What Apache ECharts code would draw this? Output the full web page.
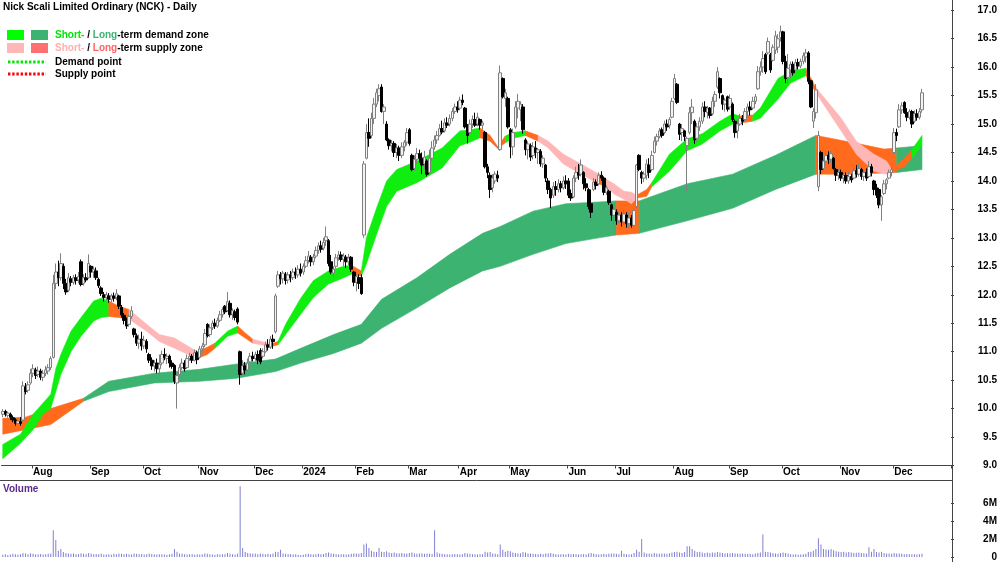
<!DOCTYPE html>
<html>
<head>
<meta charset="utf-8">
<title>Nick Scali Limited Ordinary (NCK) - Daily</title>
<script src="https://cdn.jsdelivr.net/npm/echarts@6/dist/echarts.min.js"></script>
<style>
  html, body { margin: 0; padding: 0; background: #fff; }
  #chart { width: 1000px; height: 562px; }
</style>
</head>
<body>
<div id="chart"></div>
<script>
// daily bars, mid Jul 2023 .. mid Dec 2024 (one entry per trading day)
const opens = [
  9.90, 9.95, 9.88, 9.90, 9.84, 9.80, 9.74, 9.77, 9.80, 10.38,
  10.32, 10.45, 10.62, 10.68, 10.60, 10.66, 10.55, 10.62, 10.66, 10.72,
  10.90, 12.20, 12.40, 12.30, 12.50, 12.20, 12.08, 12.28, 12.22, 12.30,
  12.26, 12.58, 12.20, 12.30, 12.30, 12.50, 12.40, 12.42, 12.27, 12.12,
  12.00, 11.95, 11.98, 11.92, 11.98, 11.95, 11.98, 11.78, 11.64, 11.55,
  11.48, 11.62, 11.40, 11.28, 11.15, 11.22, 11.10, 11.18, 10.95, 10.85,
  10.75, 10.80, 10.70, 10.80, 10.95, 10.88, 10.92, 10.80, 10.76, 10.45,
  10.60, 10.72, 10.80, 10.72, 10.88, 10.92, 10.85, 10.98, 10.90, 11.05,
  11.12, 11.48, 11.30, 11.42, 11.50, 11.45, 11.55, 11.65, 11.80, 11.72,
  11.85, 11.66, 11.70, 11.75, 11.00, 10.62, 10.75, 10.68, 10.82, 10.92,
  10.88, 10.95, 11.02, 10.92, 11.00, 11.12, 11.08, 11.22, 11.35, 12.15,
  12.35, 12.28, 12.36, 12.26, 12.35, 12.30, 12.40, 12.35, 12.45, 12.40,
  12.50, 12.60, 12.66, 12.58, 12.68, 12.78, 12.86, 12.82, 12.95, 12.95,
  12.58, 12.38, 12.50, 12.65, 12.70, 12.62, 12.66, 12.58, 12.66, 12.40,
  12.22, 12.30, 12.30, 13.05, 14.40, 14.85, 14.80, 15.10, 15.35, 15.50,
  15.65, 15.22, 15.00, 14.72, 14.62, 14.66, 14.50, 14.58, 14.45, 14.60,
  14.68, 14.90, 14.45, 14.22, 14.38, 14.48, 14.40, 14.30, 14.35, 14.15,
  14.40, 14.60, 14.72, 14.80, 14.92, 14.88, 15.02, 15.00, 15.10, 15.22,
  15.30, 15.28, 15.42, 15.28, 14.95, 14.85, 15.00, 15.08, 15.00, 15.08,
  14.98, 14.85, 14.25, 14.10, 13.88, 14.00, 14.10, 14.55, 15.80, 15.45,
  15.45, 14.90, 14.60, 14.95, 15.28, 15.25, 15.30, 14.72, 14.55, 14.62,
  14.45, 14.58, 14.50, 14.52, 14.30, 14.28, 14.00, 13.85, 13.75, 13.90,
  13.85, 13.95, 13.88, 14.00, 14.00, 13.78, 13.72, 14.05, 14.15, 14.12,
  14.15, 13.95, 13.85, 13.60, 13.85, 13.98, 13.95, 14.10, 14.05, 13.80,
  13.82, 13.58, 13.40, 13.45, 13.30, 13.40, 13.28, 13.40, 13.25, 13.35,
  13.22, 13.55, 14.45, 14.15, 14.05, 14.10, 14.28, 14.20, 14.50, 14.70,
  14.78, 14.90, 14.85, 15.00, 14.98, 15.12, 15.45, 15.70, 15.00, 14.85,
  14.88, 14.62, 14.85, 15.20, 15.05, 14.75, 14.95, 15.05, 15.30, 15.20,
  15.28, 15.18, 15.40, 15.65, 15.80, 15.50, 15.35, 15.48, 15.30, 15.35,
  15.05, 14.88, 15.00, 15.10, 15.08, 15.22, 15.30, 15.28, 15.40, 15.62,
  15.92, 16.00, 16.22, 16.25, 16.22, 16.12, 16.30, 16.35, 16.52, 16.62,
  16.10, 15.82, 15.95, 16.05, 15.95, 16.08, 16.02, 16.10, 16.18, 16.25,
  15.76, 15.05, 15.20, 13.90, 14.50, 14.22, 14.35, 14.45, 14.38, 14.40,
  14.20, 14.10, 14.15, 14.05, 14.10, 14.00, 14.08, 14.05, 14.18, 14.12,
  14.20, 14.08, 14.15, 14.08, 14.25, 14.00, 13.88, 13.85, 13.58, 13.78,
  13.95, 14.05, 14.15, 14.50, 14.85, 14.95, 15.25, 15.38, 15.20, 15.12,
  15.22, 15.05, 15.18, 15.12, 15.25
];
const closes = [
  9.95, 9.90, 9.92, 9.85, 9.80, 9.74, 9.78, 9.74, 10.40, 10.30,
  10.42, 10.62, 10.70, 10.58, 10.66, 10.55, 10.62, 10.68, 10.72, 10.88,
  12.20, 12.40, 12.30, 12.55, 12.20, 12.05, 12.30, 12.22, 12.30, 12.25,
  12.32, 12.18, 12.30, 12.26, 12.55, 12.40, 12.45, 12.30, 12.16, 12.02,
  11.95, 12.00, 11.92, 11.98, 11.94, 12.02, 11.80, 11.65, 11.55, 11.45,
  11.62, 11.72, 11.30, 11.15, 11.22, 11.10, 11.20, 11.05, 10.85, 10.75,
  10.80, 10.70, 10.78, 10.95, 10.90, 10.92, 10.80, 10.74, 10.48, 10.58,
  10.72, 10.80, 10.70, 10.88, 10.92, 10.85, 10.98, 10.86, 11.05, 11.10,
  11.32, 11.28, 11.42, 11.50, 11.45, 11.55, 11.65, 11.74, 11.70, 11.88,
  11.65, 11.72, 11.60, 11.52, 10.60, 10.75, 10.68, 10.80, 10.92, 10.88,
  10.95, 10.85, 10.82, 11.00, 11.12, 11.08, 11.22, 11.18, 11.98, 12.35,
  12.28, 12.38, 12.25, 12.35, 12.30, 12.40, 12.35, 12.45, 12.38, 12.50,
  12.60, 12.68, 12.58, 12.66, 12.78, 12.86, 12.80, 12.92, 13.02, 12.55,
  12.40, 12.45, 12.65, 12.70, 12.62, 12.68, 12.58, 12.65, 12.45, 12.22,
  12.32, 12.20, 12.02, 14.30, 14.85, 14.75, 15.10, 15.35, 15.55, 15.62,
  15.22, 15.30, 14.72, 14.62, 14.66, 14.50, 14.58, 14.45, 14.60, 14.68,
  14.85, 14.66, 14.20, 14.38, 14.48, 14.40, 14.28, 14.42, 14.12, 14.40,
  14.58, 14.72, 14.80, 14.92, 14.86, 15.02, 14.98, 15.10, 15.22, 15.30,
  15.25, 15.42, 15.38, 14.95, 14.80, 15.00, 15.08, 14.98, 15.12, 14.98,
  15.02, 14.25, 14.15, 13.85, 14.05, 14.12, 14.05, 15.90, 15.48, 15.55,
  14.95, 14.60, 14.85, 15.30, 15.40, 15.35, 14.90, 14.55, 14.65, 14.42,
  14.60, 14.50, 14.55, 14.30, 14.40, 14.05, 13.85, 13.70, 13.90, 13.85,
  13.95, 13.88, 14.00, 13.95, 13.75, 13.70, 14.05, 14.15, 14.10, 14.28,
  13.95, 13.88, 13.55, 13.45, 13.98, 13.92, 14.10, 14.05, 13.80, 13.88,
  13.62, 13.40, 13.50, 13.30, 13.40, 13.28, 13.42, 13.25, 13.35, 13.22,
  13.48, 14.28, 14.20, 14.05, 14.12, 14.30, 14.15, 14.45, 14.70, 14.78,
  14.88, 14.80, 15.00, 14.95, 15.08, 15.40, 15.80, 15.38, 14.82, 14.92,
  14.78, 14.75, 15.20, 15.30, 14.72, 14.95, 15.05, 15.30, 15.22, 15.28,
  15.15, 15.40, 15.52, 15.92, 15.55, 15.35, 15.42, 15.26, 15.45, 15.08,
  14.85, 15.00, 15.10, 15.05, 15.22, 15.30, 15.25, 15.40, 15.48, 15.92,
  16.00, 16.15, 15.92, 16.45, 15.95, 16.35, 16.55, 16.50, 16.62, 16.10,
  15.80, 15.98, 16.05, 15.90, 16.08, 16.02, 16.10, 16.20, 16.25, 15.75,
  15.30, 15.22, 15.60, 14.80, 14.20, 14.35, 14.45, 14.38, 14.48, 14.22,
  14.10, 14.15, 14.05, 14.10, 14.00, 14.08, 14.02, 14.18, 14.12, 14.22,
  14.08, 14.15, 14.05, 14.25, 14.15, 13.85, 13.75, 13.58, 13.72, 13.95,
  14.02, 14.15, 14.20, 14.85, 14.80, 15.25, 15.32, 15.20, 15.12, 15.22,
  15.00, 15.18, 15.12, 15.22, 15.55
];
const lows = [
  9.85, 9.86, 9.84, 9.80, 9.76, 9.70, 9.71, 9.70, 9.78, 10.25,
  10.28, 10.42, 10.55, 10.52, 10.55, 10.50, 10.48, 10.57, 10.60, 10.68,
  10.88, 12.10, 12.15, 12.25, 12.10, 12.00, 12.05, 12.15, 12.18, 12.18,
  12.20, 12.15, 12.16, 12.22, 12.28, 12.30, 12.30, 12.26, 12.12, 11.98,
  11.88, 11.90, 11.86, 11.87, 11.88, 11.90, 11.75, 11.60, 11.48, 11.40,
  11.44, 11.58, 11.25, 11.10, 11.05, 11.02, 11.05, 10.98, 10.80, 10.68,
  10.65, 10.62, 10.60, 10.76, 10.85, 10.78, 10.72, 10.70, 10.43, 10.00,
  10.56, 10.68, 10.65, 10.70, 10.84, 10.80, 10.83, 10.78, 10.88, 10.98,
  11.08, 11.25, 11.26, 11.38, 11.40, 11.42, 11.52, 11.60, 11.66, 11.70,
  11.60, 11.56, 11.55, 11.48, 10.42, 10.58, 10.60, 10.64, 10.80, 10.83,
  10.84, 10.78, 10.78, 10.88, 10.98, 11.02, 11.05, 11.05, 11.32, 12.12,
  12.18, 12.20, 12.18, 12.20, 12.22, 12.26, 12.28, 12.30, 12.32, 12.35,
  12.47, 12.55, 12.50, 12.52, 12.64, 12.72, 12.74, 12.78, 12.86, 12.50,
  12.36, 12.30, 12.46, 12.60, 12.58, 12.50, 12.47, 12.52, 12.40, 12.15,
  12.06, 12.10, 12.00, 13.00, 14.38, 14.60, 14.75, 15.00, 15.30, 15.40,
  15.20, 15.00, 14.70, 14.55, 14.52, 14.42, 14.40, 14.35, 14.40, 14.52,
  14.62, 14.62, 14.17, 14.18, 14.30, 14.32, 14.12, 14.20, 14.08, 14.12,
  14.35, 14.55, 14.65, 14.78, 14.82, 14.85, 14.93, 14.96, 15.05, 15.18,
  15.20, 15.24, 15.33, 14.92, 14.66, 14.82, 14.93, 14.95, 14.96, 14.90,
  14.90, 14.22, 14.05, 13.70, 13.80, 13.95, 13.98, 14.53, 15.45, 15.30,
  14.92, 14.40, 14.45, 14.92, 15.10, 15.05, 14.83, 14.45, 14.38, 14.35,
  14.38, 14.40, 14.30, 14.25, 14.23, 13.98, 13.77, 13.52, 13.70, 13.74,
  13.80, 13.80, 13.85, 13.86, 13.70, 13.65, 13.70, 13.98, 14.02, 14.08,
  13.85, 13.82, 13.50, 13.35, 13.82, 13.85, 13.92, 14.00, 13.75, 13.75,
  13.58, 13.30, 13.23, 13.23, 13.25, 13.20, 13.22, 13.18, 13.17, 13.18,
  13.20, 13.52, 14.17, 13.95, 13.98, 14.02, 14.05, 14.17, 14.48, 14.62,
  14.75, 14.76, 14.82, 14.88, 14.92, 15.10, 15.42, 15.35, 14.72, 14.70,
  14.70, 13.82, 14.82, 15.00, 14.65, 14.68, 14.88, 15.00, 15.12, 15.10,
  15.10, 15.15, 15.30, 15.62, 15.45, 15.25, 15.22, 15.22, 15.25, 15.04,
  14.76, 14.75, 14.97, 14.98, 15.05, 15.12, 15.15, 15.25, 15.35, 15.60,
  15.85, 15.90, 15.88, 16.22, 15.90, 16.10, 16.23, 16.25, 16.45, 16.05,
  15.72, 15.70, 15.80, 15.85, 15.92, 15.96, 15.98, 16.05, 16.08, 15.70,
  15.28, 14.93, 15.10, 13.82, 14.12, 14.17, 14.30, 14.30, 14.32, 14.20,
  14.00, 14.02, 14.00, 13.96, 13.95, 13.95, 13.97, 14.03, 14.06, 14.08,
  14.02, 14.00, 14.00, 14.05, 14.08, 13.75, 13.70, 13.52, 13.30, 13.75,
  13.85, 14.03, 14.08, 14.47, 14.70, 14.93, 15.18, 15.18, 15.05, 15.08,
  14.93, 15.02, 15.06, 15.08, 15.20
];
const highs = [
  9.99, 9.98, 9.95, 9.93, 9.88, 9.83, 9.82, 9.85, 10.48, 10.45,
  10.48, 10.70, 10.78, 10.72, 10.74, 10.70, 10.68, 10.75, 10.78, 10.92,
  12.35, 12.55, 12.60, 12.73, 12.55, 12.28, 12.38, 12.33, 12.35, 12.36,
  12.40, 12.62, 12.36, 12.38, 12.71, 12.52, 12.50, 12.48, 12.30, 12.15,
  12.05, 12.05, 12.03, 12.02, 12.04, 12.10, 12.00, 11.82, 11.68, 11.60,
  11.66, 11.80, 11.42, 11.32, 11.30, 11.35, 11.28, 11.22, 10.98, 10.90,
  10.85, 10.88, 10.95, 11.02, 11.06, 10.97, 10.95, 10.85, 10.78, 10.62,
  10.78, 10.88, 10.85, 10.95, 10.98, 10.96, 11.04, 11.02, 11.10, 11.15,
  11.40, 11.50, 11.48, 11.55, 11.58, 11.60, 11.72, 11.78, 11.82, 12.05,
  11.90, 11.76, 11.74, 11.78, 11.02, 10.85, 10.82, 10.88, 10.98, 11.00,
  11.00, 11.02, 11.06, 11.06, 11.18, 11.22, 11.28, 11.30, 12.02, 12.42,
  12.40, 12.42, 12.40, 12.40, 12.42, 12.46, 12.48, 12.52, 12.55, 12.55,
  12.68, 12.77, 12.70, 12.72, 12.85, 12.92, 12.95, 13.00, 13.20, 12.98,
  12.70, 12.50, 12.72, 12.77, 12.76, 12.73, 12.70, 12.72, 12.68, 12.42,
  12.36, 12.36, 12.36, 14.35, 15.00, 15.10, 15.20, 15.46, 15.62, 15.70,
  15.70, 15.35, 15.05, 14.75, 14.72, 14.70, 14.65, 14.62, 14.68, 14.72,
  14.93, 14.93, 14.48, 14.45, 14.58, 14.55, 14.50, 14.53, 14.38, 14.55,
  14.70, 14.80, 14.88, 15.00, 15.06, 15.10, 15.12, 15.17, 15.28, 15.36,
  15.40, 15.48, 15.52, 15.30, 15.00, 15.08, 15.15, 15.20, 15.20, 15.10,
  15.06, 14.88, 14.30, 14.15, 14.12, 14.17, 14.18, 16.03, 15.82, 15.62,
  15.48, 14.93, 14.92, 15.40, 15.53, 15.40, 15.35, 14.75, 14.70, 14.66,
  14.68, 14.70, 14.58, 14.56, 14.45, 14.30, 14.05, 13.88, 13.98, 14.00,
  14.03, 14.00, 14.08, 14.10, 14.05, 13.85, 14.10, 14.25, 14.30, 14.38,
  14.17, 14.05, 13.88, 13.85, 14.05, 14.03, 14.15, 14.17, 14.08, 13.92,
  13.85, 13.60, 13.58, 13.50, 13.47, 13.45, 13.50, 13.45, 13.45, 13.40,
  13.52, 14.30, 14.47, 14.18, 14.17, 14.38, 14.40, 14.53, 14.78, 14.83,
  14.93, 14.94, 15.06, 15.08, 15.12, 15.46, 15.88, 15.72, 15.02, 15.00,
  14.90, 14.78, 15.30, 15.44, 15.08, 15.02, 15.12, 15.38, 15.40, 15.32,
  15.30, 15.48, 15.58, 16.00, 15.82, 15.52, 15.46, 15.50, 15.52, 15.38,
  15.08, 15.08, 15.18, 15.16, 15.28, 15.36, 15.40, 15.48, 15.53, 16.02,
  16.10, 16.28, 16.25, 16.52, 16.25, 16.40, 16.64, 16.58, 16.73, 16.64,
  16.20, 16.23, 16.10, 16.10, 16.14, 16.15, 16.15, 16.26, 16.32, 16.28,
  15.78, 15.28, 15.70, 14.88, 14.53, 14.40, 14.53, 14.52, 14.53, 14.42,
  14.23, 14.22, 14.20, 14.15, 14.15, 14.17, 14.12, 14.25, 14.28, 14.30,
  14.23, 14.20, 14.22, 14.35, 14.30, 14.02, 13.95, 13.88, 13.75, 14.02,
  14.05, 14.20, 14.25, 14.93, 14.92, 15.35, 15.38, 15.40, 15.28, 15.26,
  15.25, 15.24, 15.26, 15.28, 15.62
];
// volume in millions of shares
const volumes = [
  0.25, 0.30, 0.22, 0.28, 0.35, 0.30, 0.26, 0.32, 0.45, 0.38,
  0.30, 0.42, 0.35, 0.28, 0.30, 0.33, 0.27, 0.31, 0.36, 0.40,
  3.00, 1.90, 0.70, 0.90, 0.55, 0.45, 0.40, 0.35, 0.38, 0.32,
  0.30, 0.42, 0.35, 0.30, 0.45, 0.36, 0.32, 0.34, 0.30, 0.38,
  0.28, 0.32, 0.30, 0.26, 0.35, 0.30, 0.40, 0.36, 0.32, 0.35,
  0.30, 0.28, 0.40, 0.36, 0.30, 0.33, 0.28, 0.32, 0.38, 0.34,
  0.30, 0.28, 0.32, 0.30, 0.27, 0.25, 0.30, 0.35, 0.90, 0.60,
  0.40, 0.35, 0.30, 0.28, 0.32, 0.30, 0.26, 0.30, 0.28, 0.32,
  0.40, 0.35, 0.30, 0.28, 0.25, 0.30, 0.27, 0.32, 0.30, 0.45,
  0.35, 0.30, 0.28, 0.40, 7.90, 1.00, 0.55, 0.45, 0.40, 0.35,
  0.38, 0.32, 0.40, 0.35, 0.30, 0.36, 0.30, 0.40, 0.60, 0.55,
  0.80, 0.40, 0.35, 0.30, 0.33, 0.28, 0.30, 0.26, 0.22, 0.25,
  0.30, 0.35, 0.30, 0.28, 0.32, 0.35, 0.30, 0.33, 0.45, 0.50,
  0.40, 0.35, 0.30, 0.28, 0.32, 0.30, 0.28, 0.30, 0.35, 0.40,
  0.38, 0.36, 0.45, 1.40, 1.50, 1.00, 0.70, 0.60, 0.55, 1.00,
  0.60, 0.55, 0.65, 0.50, 0.45, 0.50, 0.42, 0.40, 0.45, 0.40,
  0.38, 0.45, 0.50, 0.40, 0.35, 0.38, 0.42, 0.36, 0.40, 0.35,
  0.33, 3.00, 0.50, 0.40, 0.35, 0.30, 0.32, 0.28, 0.30, 0.33,
  0.30, 0.28, 0.32, 0.45, 0.40, 0.35, 0.30, 0.32, 0.28, 0.30,
  0.30, 0.60, 0.50, 0.55, 0.40, 0.35, 0.30, 1.40, 0.80, 0.60,
  0.70, 0.65, 0.50, 0.45, 0.40, 0.42, 0.55, 0.50, 0.40, 0.38,
  0.35, 0.33, 0.30, 0.35, 0.30, 0.40, 0.38, 0.45, 0.35, 0.30,
  0.28, 0.30, 0.32, 0.28, 0.35, 0.30, 0.33, 0.30, 0.28, 0.32,
  0.30, 0.28, 0.40, 0.45, 0.35, 0.30, 0.28, 0.30, 0.35, 0.32,
  0.35, 0.40, 0.38, 0.35, 0.30, 0.70, 0.35, 0.30, 0.28, 0.32,
  0.45, 0.80, 0.60, 2.00, 0.50, 0.40, 0.38, 0.35, 0.45, 0.40,
  0.35, 0.38, 0.40, 0.35, 0.42, 0.50, 0.55, 0.60, 0.50, 0.45,
  0.55, 1.20, 1.20, 0.90, 0.70, 0.55, 0.60, 0.50, 0.45, 0.50,
  0.45, 0.50, 0.48, 0.55, 0.50, 0.45, 0.40, 0.42, 0.38, 0.45,
  0.40, 0.38, 0.35, 0.40, 0.36, 0.33, 0.35, 0.32, 0.38, 0.45,
  0.50, 2.50, 0.60, 0.55, 0.50, 0.45, 0.40, 0.35, 0.45, 0.50,
  0.45, 0.40, 0.30, 0.28, 0.30, 0.25, 0.28, 0.30, 0.35, 0.55,
  0.60, 0.70, 0.90, 2.10, 1.40, 0.90, 0.85, 0.80, 0.90, 0.75,
  0.65, 0.60, 0.55, 0.58, 0.50, 0.55, 0.50, 0.45, 0.48, 0.50,
  0.45, 0.42, 0.40, 1.10, 0.60, 0.90, 0.55, 0.50, 0.60, 0.45,
  0.40, 0.38, 0.35, 0.45, 0.40, 0.38, 0.35, 0.30, 0.33, 0.30,
  0.32, 0.30, 0.28, 0.30, 0.35
];

// short-term zone edges, sampled at bar positions (D demand, S supply, T turning)
const shortX = [-0.5, 7, 12, 16, 19, 21, 23, 27, 31, 36, 39, 42, 46, 50, 57, 62, 68, 77, 81, 84,
  89, 93, 96, 99, 105, 107, 109, 112, 118, 123, 129, 135, 138, 142, 144, 148, 152, 156, 164, 174,
  181, 185, 189, 193, 196, 199, 202, 207, 212, 216, 222, 229, 236, 239, 242, 246, 249, 251, 255, 257,
  264, 271, 277, 284, 289, 292, 297, 300, 307, 312, 318, 322, 332, 338, 345, 350, 352, 357, 360, 364];
const shortLo = [9.12, 9.39, 9.63, 9.90, 10.00, 10.30, 10.60, 11.00, 11.27, 11.54, 11.60, 11.62, 11.60, 11.57, 11.36, 11.18, 11.06, 10.88, 10.95, 11.06,
  11.27, 11.33, 11.24, 11.15, 11.10, 11.10, 11.12, 11.30, 11.66, 11.95, 12.19, 12.30, 12.36, 12.33, 12.54, 13.06, 13.55, 13.82, 13.97, 14.23,
  14.62, 14.68, 14.76, 14.70, 14.57, 14.67, 14.75, 14.80, 14.70, 14.58, 14.30, 14.12, 13.95, 13.90, 13.77, 13.68, 13.60, 13.70, 13.73, 13.90,
  14.17, 14.53, 14.65, 14.88, 15.00, 15.02, 15.05, 15.10, 15.44, 15.72, 15.85, 15.55, 14.88, 14.47, 14.17, 14.12, 14.15, 14.25, 14.40, 14.62];
const shortHi = [9.37, 9.55, 9.90, 10.10, 10.25, 10.70, 10.95, 11.36, 11.60, 11.89, 11.94, 11.89, 11.80, 11.74, 11.48, 11.30, 11.24, 11.00, 11.08, 11.15,
  11.36, 11.45, 11.33, 11.22, 11.15, 11.15, 11.18, 11.48, 11.94, 12.25, 12.42, 12.50, 12.52, 12.42, 13.00, 13.52, 14.00, 14.20, 14.35, 14.58,
  14.88, 14.90, 14.93, 14.80, 14.60, 14.79, 14.85, 14.88, 14.80, 14.70, 14.47, 14.30, 14.12, 14.03, 13.95, 13.82, 13.80, 13.75, 13.85, 13.97,
  14.47, 14.74, 14.83, 15.05, 15.18, 15.14, 15.16, 15.28, 15.80, 15.93, 15.98, 15.64, 15.10, 14.70, 14.47, 14.35, 14.20, 14.40, 14.55, 14.80];
const shortZone = 'DDDDDDDDDDD' + 'TTSSSSTTDDTTSST' + 'DDDDDDT' + 'DDDDDDDDD' + 'TTTDDT' + 'SSSSTSSSSTT' + 'DDDDDDT' + 'DDDDT' + 'SSSSSTTD-';

// long-term zone edges (L demand, O supply)
const longX = [-0.5, 9, 19, 32, 42, 60, 78, 92, 108, 118, 131, 142, 150, 164, 177, 190, 197, 210, 223, 236,
  243, 252, 271, 289, 306, 322, 337, 349, 354, 364];
const longLo = [9.55, 9.63, 9.72, 10.13, 10.30, 10.45, 10.48, 10.53, 10.65, 10.80, 10.97, 11.15, 11.41, 11.77, 12.12, 12.42, 12.50, 12.71, 12.90, 13.00,
  13.05, 13.08, 13.30, 13.52, 13.85, 14.12, 14.12, 14.14, 14.15, 14.20];
const longHi = [9.83, 9.85, 10.00, 10.18, 10.48, 10.62, 10.69, 10.78, 10.87, 11.06, 11.30, 11.48, 11.92, 12.30, 12.71, 13.08, 13.20, 13.47, 13.60, 13.63,
  13.65, 13.65, 13.95, 14.12, 14.45, 14.80, 14.67, 14.56, 14.58, 14.62];
const longZone = 'OOO' + 'LLLLLLLLLLLLLLLLL' + 'O' + 'LLLL' + 'OOO' + 'L-';

const slotCount = 376;
const monthTicks = [[12, 'Aug'], [35, 'Sep'], [56, 'Oct'], [78, 'Nov'], [100, 'Dec'], [119, '2024'], [140, 'Feb'],
  [161, 'Mar'], [181, 'Apr'], [201, 'May'], [224, 'Jun'], [243, 'Jul'], [266, 'Aug'], [288, 'Sep'],
  [309, 'Oct'], [332, 'Nov'], [353, 'Dec']];
const priceTicks = [9, 9.5, 10, 10.5, 11, 11.5, 12, 12.5, 13, 13.5, 14, 14.5, 15, 15.5, 16, 16.5, 17];
const volumeTicks = [0, 2, 4, 6];

const FONT = 'Liberation Sans, Arial, sans-serif';
const zoneColors = {
  D: '#10ee10', S: '#ffb6b6', T: '#ff6a1c',
  L: '#3cb371', O: '#ff6a1c'
};

const slots = Array.from({ length: slotCount }, (_, i) => 'd' + i);
const monthLabel = {};
monthTicks.forEach(t => { monthLabel[t[0]] = t[1]; });
const candles = opens.map((o, i) => [o, closes[i], lows[i], highs[i]]);

// group consecutive segments of the same zone into one polygon each
function buildRuns(xs, zones) {
  const runs = [];
  let start = 0;
  for (let k = 1; k < xs.length; k++) {
    if (k === xs.length - 1 || zones[k] !== zones[start]) {
      runs.push({ from: start, to: k, zone: zones[start] });
      start = k;
    }
  }
  return runs;
}

function bandSeries(xs, los, his, zones) {
  const runs = buildRuns(xs, zones);
  return {
    type: 'custom',
    xAxisIndex: 0,
    yAxisIndex: 0,
    silent: true,
    clip: true,
    data: runs.map(r => [Math.max(0, xs[r.from]), los[r.from]]),
    renderItem: function (params, api) {
      const run = runs[params.dataIndex];
      const top = [];
      const bottom = [];
      for (let k = run.from; k <= run.to; k++) {
        top.push(api.coord([xs[k], his[k]]));
        bottom.unshift(api.coord([xs[k], los[k]]));
      }
      const c = zoneColors[run.zone];
      return {
        type: 'polygon',
        shape: { points: top.concat(bottom) },
        style: { fill: c, stroke: c, lineWidth: 0.6 }
      };
    }
  };
}

const chart = echarts.init(document.getElementById('chart'));

const option = {
  animation: false,
  backgroundColor: '#ffffff',
  textStyle: { fontFamily: FONT },
  grid: [
    { left: 1.5, right: 48, top: 0, bottom: 96.5 },
    { left: 1.5, right: 48, top: 480.5, bottom: 3 }
  ],
  xAxis: [
    {
      type: 'category',
      gridIndex: 0,
      data: slots,
      boundaryGap: true,
      axisLine: { show: true, lineStyle: { color: '#444', width: 1 } },
      axisTick: {
        show: true, length: 3, alignWithLabel: false,
        interval: idx => idx in monthLabel,
        lineStyle: { color: '#444' }
      },
      axisLabel: {
        show: true,
        interval: idx => idx in monthLabel,
        formatter: (v, idx) => monthLabel[idx] || '',
        align: 'left',
        margin: 2,
        color: '#000',
        fontSize: 10,
        fontWeight: 'bold',
        fontFamily: FONT
      },
      splitLine: { show: false }
    },
    {
      type: 'category',
      gridIndex: 1,
      data: slots,
      boundaryGap: true,
      axisLine: { show: false },
      axisTick: { show: false },
      axisLabel: { show: false },
      splitLine: { show: false }
    }
  ],
  yAxis: [
    {
      type: 'value',
      gridIndex: 0,
      position: 'right',
      min: 9,
      max: 17.18,
      interval: 0.5,
      axisLine: { show: false },
      axisTick: { show: true, length: 3, customValues: priceTicks, lineStyle: { color: '#444' } },
      axisLabel: {
        customValues: priceTicks,
        formatter: v => v > 17.05 ? '' : v.toFixed(1),
        align: 'right',
        margin: 46,
        color: '#000',
        fontSize: 10,
        fontWeight: 'bold',
        fontFamily: FONT
      },
      splitLine: { show: false }
    },
    {
      type: 'value',
      gridIndex: 1,
      position: 'right',
      min: 0,
      max: 8.54,
      interval: 2,
      axisLine: { show: false },
      axisTick: { show: true, length: 3, customValues: volumeTicks, lineStyle: { color: '#444' } },
      axisLabel: {
        customValues: volumeTicks,
        formatter: v => v > 7 ? '' : (v === 0 ? '0' : v + 'M'),
        align: 'right',
        margin: 46,
        color: '#000',
        fontSize: 10,
        fontWeight: 'bold',
        fontFamily: FONT
      },
      splitLine: { show: false }
    }
  ],
  series: [
    bandSeries(longX, longLo, longHi, longZone),
    bandSeries(shortX, shortLo, shortHi, shortZone),
    {
      type: 'candlestick',
      xAxisIndex: 0,
      yAxisIndex: 0,
      data: candles,
      barWidth: 3,
      silent: true,
      itemStyle: {
        color: '#f2f2f2',
        color0: '#000000',
        borderColor: '#808080',
        borderColor0: '#000000',
        borderWidth: 1
      }
    },
    {
      type: 'bar',
      xAxisIndex: 1,
      yAxisIndex: 1,
      data: volumes,
      barWidth: 1,
      silent: true,
      itemStyle: { color: '#8080d2' }
    }
  ],
  graphic: [
    { type: 'line', silent: true, shape: { x1: 952.5, y1: 0, x2: 952.5, y2: 562 }, style: { stroke: '#444', lineWidth: 1 } },
    { type: 'line', silent: true, shape: { x1: 0, y1: 480.5, x2: 952.5, y2: 480.5 }, style: { stroke: '#444', lineWidth: 1 } },
    {
      type: 'text', silent: true, x: 3, y: 2,
      style: { text: 'Nick Scali Limited Ordinary (NCK) - Daily', font: 'bold 10px ' + FONT, fill: '#000', verticalAlign: 'top' }
    },
    { type: 'rect', silent: true, shape: { x: 7, y: 30, width: 17, height: 10 }, style: { fill: '#00ff00' } },
    { type: 'rect', silent: true, shape: { x: 31, y: 30, width: 17, height: 10 }, style: { fill: '#3cb371' } },
    { type: 'rect', silent: true, shape: { x: 7, y: 43, width: 17, height: 10 }, style: { fill: '#ffb6b6' } },
    { type: 'rect', silent: true, shape: { x: 31, y: 43, width: 17, height: 10 }, style: { fill: '#ff7070' } },
    {
      type: 'text', silent: true, x: 55, y: 35,
      style: {
        text: '{a|Short-} / {b|Long}-term demand zone',
        font: 'bold 10px ' + FONT, fill: '#000', verticalAlign: 'middle',
        rich: { a: { fill: '#00e600', font: 'bold 10px ' + FONT }, b: { fill: '#3cb371', font: 'bold 10px ' + FONT } }
      }
    },
    {
      type: 'text', silent: true, x: 55, y: 48,
      style: {
        text: '{a|Short-} / {b|Long}-term supply zone',
        font: 'bold 10px ' + FONT, fill: '#000', verticalAlign: 'middle',
        rich: { a: { fill: '#ffb0b0', font: 'bold 10px ' + FONT }, b: { fill: '#ff6464', font: 'bold 10px ' + FONT } }
      }
    },
    { type: 'line', silent: true, shape: { x1: 8, y1: 62, x2: 46, y2: 62 }, style: { stroke: '#00e600', lineWidth: 3, lineDash: [2.4, 1.8] } },
    { type: 'line', silent: true, shape: { x1: 8, y1: 74, x2: 46, y2: 74 }, style: { stroke: '#ff0000', lineWidth: 3, lineDash: [2.4, 1.8] } },
    {
      type: 'text', silent: true, x: 55, y: 62,
      style: { text: 'Demand point', font: 'bold 10px ' + FONT, fill: '#000', verticalAlign: 'middle' }
    },
    {
      type: 'text', silent: true, x: 55, y: 74,
      style: { text: 'Supply point', font: 'bold 10px ' + FONT, fill: '#000', verticalAlign: 'middle' }
    },
    {
      type: 'text', silent: true, x: 3, y: 484,
      style: { text: 'Volume', font: 'bold 10px ' + FONT, fill: '#5b2a8c', verticalAlign: 'top' }
    }
  ]
};

chart.setOption(option);
</script>
</body>
</html>
